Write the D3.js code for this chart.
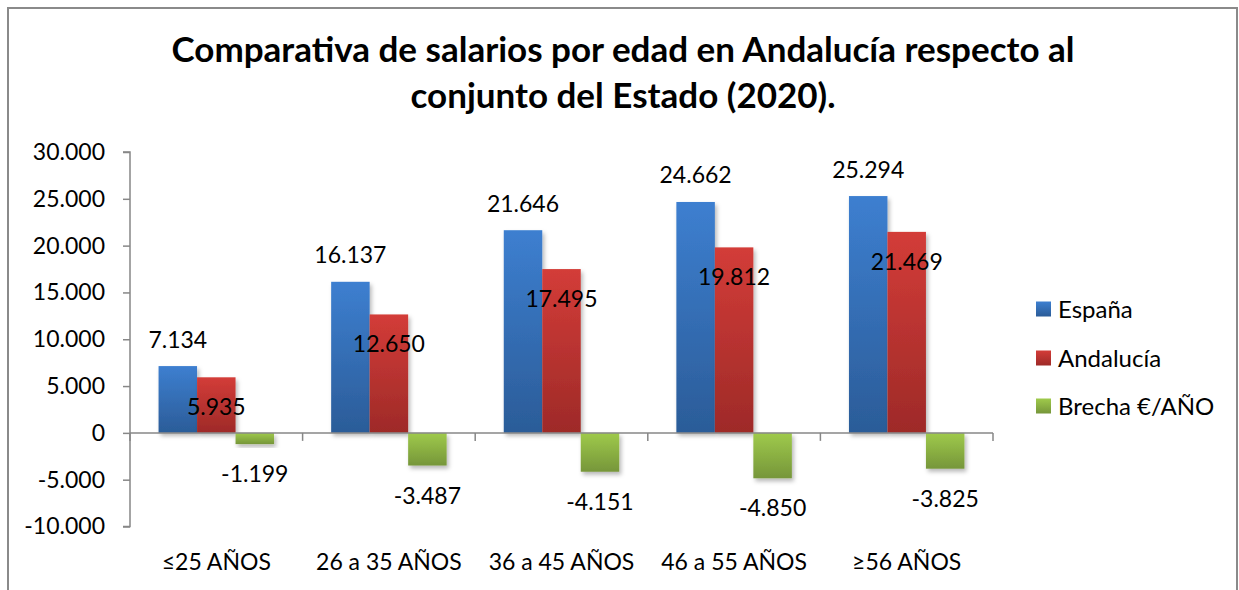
<!DOCTYPE html>
<html><head><meta charset="utf-8">
<script src="https://cdn.jsdelivr.net/npm/d3@7"></script>
<style>html,body{margin:0;padding:0;background:#fff;}svg{display:block;}</style>
</head><body>
<svg id="chart" width="1239" height="590"></svg>
<script>
const categories = ["≤25 AÑOS", "26 a 35 AÑOS", "36 a 45 AÑOS", "46 a 55 AÑOS", "≥56 AÑOS"];
const series = ["España", "Andalucía", "Brecha €/AÑO"];
const espana = [7134, 16137, 21646, 24662, 25294];
const andalucia = [5935, 12650, 17495, 19812, 21469];
const brecha = [-1199, -3487, -4151, -4850, -3825];
const yTicks = [-10000, -5000, 0, 5000, 10000, 15000, 20000, 25000, 30000];
const titleLines = ["Comparativa de salarios por edad en Andalucía respecto al", "conjunto del Estado (2020)."];

const values = [espana, andalucia, brecha];
const colors = [["#3d7fd0", "#2b5c98"], ["#d33c38", "#9e2a28"], ["#9fca4b", "#76963a"]];
const FONT = "Lato, 'Open Sans', sans-serif";
const fmt = v => d3.format(",")(v).replace(/,/g, ".").replace(/\u2212/g, "-");

const svg = d3.select("#chart");
const defs = svg.append("defs");
colors.forEach((c, i) => {
  const g = defs.append("linearGradient").attr("id", "g" + i).attr("x1", 0).attr("y1", 0).attr("x2", 0).attr("y2", 1);
  g.append("stop").attr("offset", "0%").attr("stop-color", c[0]);
  g.append("stop").attr("offset", "100%").attr("stop-color", c[1]);
});
const f = defs.append("filter").attr("id", "sh").attr("x", "-20%").attr("y", "-20%").attr("width", "150%").attr("height", "150%");
f.append("feDropShadow").attr("dx", 2).attr("dy", 3).attr("stdDeviation", 2).attr("flood-color", "#000").attr("flood-opacity", 0.28);

// frame
svg.append("rect").attr("x", 8).attr("y", 8).attr("width", 1229).attr("height", 600)
  .attr("fill", "none").attr("stroke", "#8a8a8a").attr("stroke-width", 2);

// title
svg.append("g").selectAll("text").data(titleLines).join("text")
  .attr("x", 623).attr("y", (d, i) => 62 + i * 46)
  .attr("text-anchor", "middle").attr("font-family", FONT).attr("font-weight", "bold")
  .attr("font-size", 35).attr("fill", "#000").text(d => d);

const left = 130, right = 993;
const y = d3.scaleLinear().domain([-10000, 30000]).range([526.5, 152]);
const x0 = d3.scaleBand().domain(categories).range([left, right]).padding(0);
const x1 = d3.scaleBand().domain(series).range([0, x0.bandwidth()]).paddingInner(0).paddingOuter(0.742);

// y axis
const yAxis = d3.axisLeft(y).tickValues(yTicks).tickSize(7).tickFormat(d => d === 0 ? "0" : fmt(d));
const ga = svg.append("g").attr("transform", `translate(${left},0)`).call(yAxis);
ga.select(".domain").attr("stroke", "#878787").attr("stroke-width", 1.5).attr("d", `M-7,${y(-10000)}H0V${y(30000)}H-7`);
ga.selectAll(".tick line").attr("stroke", "#878787").attr("stroke-width", 1.5);
ga.selectAll(".tick text").attr("x", -25).attr("font-family", FONT).attr("font-size", 23).attr("fill", "#000");

// bars
const bars = svg.append("g");
values.forEach((arr, si) => {
  bars.append("g").selectAll("rect").data(arr).join("rect")
    .attr("x", (d, i) => x0(categories[i]) + x1(series[si]))
    .attr("width", x1.bandwidth())
    .attr("y", d => y(Math.max(0, d)))
    .attr("height", d => Math.abs(y(d) - y(0)))
    .attr("fill", `url(#g${si})`)
    .attr("filter", "url(#sh)");
});

// x axis (over bars)
const xAxis = d3.axisBottom(x0).tickSize(0).tickFormat(d => d);
const gx = svg.append("g").attr("transform", `translate(0,${y(0)})`).call(xAxis);
gx.select(".domain").attr("stroke", "#878787").attr("stroke-width", 1.5).attr("d", `M${left},0H${right}`);
gx.selectAll(".tick text").attr("y", 0).attr("dy", 0).attr("transform", `translate(0,${562 + 8 - y(0)})`)
  .attr("font-family", FONT).attr("font-size", 23).attr("fill", "#000");
const bounds = categories.map(c => x0(c)).concat([right]);
gx.append("g").selectAll("line").data(bounds).join("line")
  .attr("x1", d => d).attr("x2", d => d).attr("y1", 0).attr("y2", 8)
  .attr("stroke", "#878787").attr("stroke-width", 1.5);

// data labels
const lab = svg.append("g").attr("font-family", FONT).attr("font-size", 23).attr("fill", "#000").attr("text-anchor", "middle");
values.forEach((arr, si) => {
  lab.append("g").selectAll("text").data(arr).join("text")
    .attr("x", (d, i) => x0(categories[i]) + x1(series[si]) + x1.bandwidth() / 2)
    .attr("y", d => {
      if (si === 0) return y(d) - 26.5 + 8;
      return y(d) + 30 + 8;
    })
    .text(d => fmt(d));
});

// legend
const lg = svg.append("g");
const legY = [309, 358, 406];
series.forEach((s, i) => {
  lg.append("rect").attr("x", 1036).attr("y", legY[i] - 7.5).attr("width", 15).attr("height", 15).attr("fill", `url(#g${i})`);
  lg.append("text").attr("x", 1058).attr("y", legY[i] + 8.5).attr("font-family", FONT).attr("font-size", 24).attr("fill", "#000").text(s);
});
</script>
</body></html>
